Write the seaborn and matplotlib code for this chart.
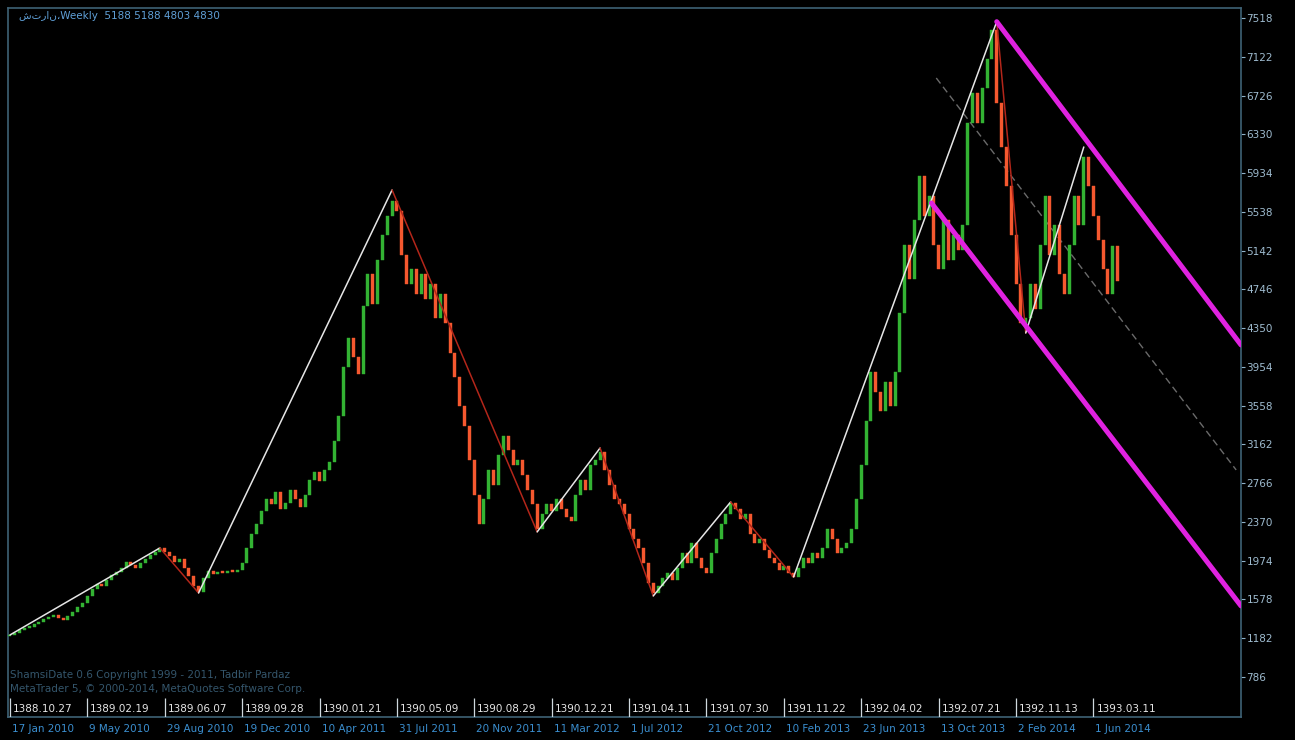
import numpy as np
import pandas as pd
import matplotlib
matplotlib.use("Agg")
import matplotlib.pyplot as plt
import matplotlib.transforms as mtransforms
import seaborn as sns

# weekly closes, 17 Jan 2010 .. Jun 2014
closes = [
    1215, 1240, 1265, 1290, 1300, 1330, 1350, 1380, 1400, 1420,
    1390, 1370, 1410, 1450, 1500, 1540, 1610, 1680, 1740, 1720,
    1780, 1830, 1860, 1900, 1960, 1930, 1900, 1950, 1990, 2030,
    2060, 2100, 2060, 2020, 1960, 1990, 1900, 1820, 1720, 1650,
    1800, 1870, 1840, 1860, 1850, 1870, 1860, 1880, 1950, 2100,
    2250, 2350, 2480, 2600, 2550, 2680, 2500, 2560, 2700, 2600,
    2520, 2640, 2800, 2880, 2790, 2900, 2980, 3200, 3450, 3950,
    4250, 4050, 3880, 4580, 4900, 4600, 5050, 5300, 5500, 5650,
    5550, 5100, 4800, 4950, 4700, 4900, 4650, 4800, 4450, 4700,
    4400, 4100, 3850, 3550, 3350, 3000, 2650, 2350, 2600, 2900,
    2750, 3050, 3250, 3100, 2950, 3000, 2850, 2700, 2550, 2300,
    2450, 2550, 2480, 2600, 2500, 2420, 2380, 2650, 2800, 2700,
    2950, 3000, 3080, 2900, 2750, 2600, 2550, 2450, 2300, 2200,
    2100, 1950, 1750, 1640, 1720, 1800, 1850, 1780, 1900, 2050,
    1950, 2150, 2000, 1900, 1850, 2050, 2200, 2350, 2450, 2560,
    2500, 2400, 2450, 2250, 2150, 2200, 2080, 2000, 1950, 1880,
    1920, 1850, 1810, 1900, 2000, 1950, 2050, 2000, 2100, 2300,
    2200, 2050, 2100, 2150, 2300, 2600, 2950, 3400, 3900, 3700,
    3500, 3800, 3550, 3900, 4500, 5200, 4850, 5450, 5900, 5500,
    5700, 5200, 4950, 5450, 5050, 5300, 5150, 5400, 6450, 6750,
    6450, 6800, 7100, 7400, 6650, 6200, 5800, 5300, 4800, 4400,
    4450, 4800, 4550, 5200, 5700, 5100, 5400, 4900, 4700, 5200,
    5700, 5400, 6100, 5800, 5500, 5250, 4950, 4700, 5188, 4830,
]
first_open = 1200

greg_labels = ["17 Jan 2010", "9 May 2010", "29 Aug 2010", "19 Dec 2010",
               "10 Apr 2011", "31 Jul 2011", "20 Nov 2011", "11 Mar 2012",
               "1 Jul 2012", "21 Oct 2012", "10 Feb 2013", "23 Jun 2013",
               "13 Oct 2013", "2 Feb 2014", "1 Jun 2014"]
shamsi_labels = ["1388.10.27", "1389.02.19", "1389.06.07", "1389.09.28",
                 "1390.01.21", "1390.05.09", "1390.08.29", "1390.12.21",
                 "1391.04.11", "1391.07.30", "1391.11.22", "1392.04.02",
                 "1392.07.21", "1392.11.13", "1393.03.11"]
y_ticks = [7518, 7122, 6726, 6330, 5934, 5538, 5142, 4746, 4350, 3954,
           3558, 3162, 2766, 2370, 1974, 1578, 1182, 786]

# zigzag pivots (bar index, price)
pivot_idx = [0, 31, 39, 79, 109, 122, 133, 149, 162, 204, 210, 222]
pivot_val = [1215, 2104, 1644, 5761, 2268, 3125, 1614, 2574, 1808, 7480, 4300, 6200]

# channel lines
upper_x, upper_y = [204, 254.5], [7480, 4178]
lower_x, lower_y = [190.5, 254.5], [5628, 1512]
mid_x, mid_y = [191.5, 253.5], [6905, 2901]

header = "شتران،Weekly  5188 5188 4803 4830"

df = pd.DataFrame({"close": closes})
df["idx"] = np.arange(len(df))
df["open"] = [first_open] + closes[:-1]
df["up"] = df["close"] >= df["open"]

sns.set_style("dark")
plt.rcParams["font.family"] = ["DejaVu Sans"]

fig = plt.figure(figsize=(12.95, 7.40), dpi=100, facecolor="black")
ax = fig.add_axes([8 / 1295, 1 - 717 / 740, (1241 - 8) / 1295, (717 - 8) / 740])
ax.set_facecolor("black")

green, red = "#33b333", "#f5582f"
for is_up, col in [(True, green), (False, red)]:
    sub = df[df["up"] == is_up]
    lo = np.minimum(sub["open"], sub["close"])
    h = (sub["close"] - sub["open"]).abs().clip(lower=15)
    ax.bar(sub["idx"], h, bottom=lo, width=0.62, color=col, edgecolor=col,
           linewidth=0.3, zorder=3)

# zigzag: up legs white, down legs red
for k in range(len(pivot_idx) - 1):
    up_leg = pivot_val[k + 1] > pivot_val[k]
    sns.lineplot(x=pivot_idx[k:k + 2], y=pivot_val[k:k + 2], ax=ax,
                 color="#e6e6e6" if up_leg else "#b3261a",
                 linewidth=1.1, zorder=4, legend=False)

sns.lineplot(x=mid_x, y=mid_y, ax=ax, color="#6a6a6a", linewidth=1.0,
             zorder=2, legend=False)
ax.lines[-1].set_linestyle((0, (5, 3)))
sns.lineplot(x=upper_x, y=upper_y, ax=ax, color="#e022e0", linewidth=3.6, zorder=5)
sns.lineplot(x=lower_x, y=lower_y, ax=ax, color="#e022e0", linewidth=3.6, zorder=5)

ax.set_xlim(-0.4, 254.5)
ax.set_ylim(377, 7620)
ax.grid(False)

# right price axis
ax.yaxis.tick_right()
ax.set_yticks(y_ticks)
ax.set_yticklabels([str(v) for v in y_ticks])
ax.tick_params(axis="y", colors="#8fb2c9", labelcolor="#9fbcd0", labelsize=7.5,
               length=3, width=0.8, pad=1, direction="out")

# bottom date axis: gregorian below, shamsi inside
label_idx = list(range(0, len(closes), 16))
ax.set_xticks(label_idx)
ax.set_xticklabels(greg_labels, ha="left")
ax.tick_params(axis="x", colors="#3b8fd0", labelsize=7.5, length=0, pad=5)
offset = mtransforms.ScaledTranslation(2 / 100, 0, fig.dpi_scale_trans)
for lab in ax.get_xticklabels():
    lab.set_transform(lab.get_transform() + offset)

for s in ["left", "right", "top", "bottom"]:
    ax.spines[s].set_color("#3e6275")
    ax.spines[s].set_linewidth(1.2)

blend = mtransforms.blended_transform_factory(ax.transData, ax.transAxes)
ax.vlines(label_idx, 0, 0.027, transform=blend, color="#cfd8de", linewidth=0.9, zorder=6)
for i, lab in zip(label_idx, shamsi_labels):
    ax.text(i + 0.6, 0.004, lab, transform=blend, color="#e6e6e6", fontsize=7.5,
            ha="left", va="bottom", zorder=7)

ax.text(0.002, 0.052, "ShamsiDate 0.6 Copyright 1999 - 2011, Tadbir Pardaz",
        transform=ax.transAxes, color="#34566c", fontsize=7.5, ha="left", va="bottom", zorder=1)
ax.text(0.002, 0.032, "MetaTrader 5, © 2000-2014, MetaQuotes Software Corp.",
        transform=ax.transAxes, color="#34566c", fontsize=7.5, ha="left", va="bottom", zorder=1)

ax.text(0.009, 0.996, header, transform=ax.transAxes, color="#5f9fd6",
        fontsize=7.5, ha="left", va="top", zorder=7)

fig.savefig("out.png", dpi=100, facecolor="black")
